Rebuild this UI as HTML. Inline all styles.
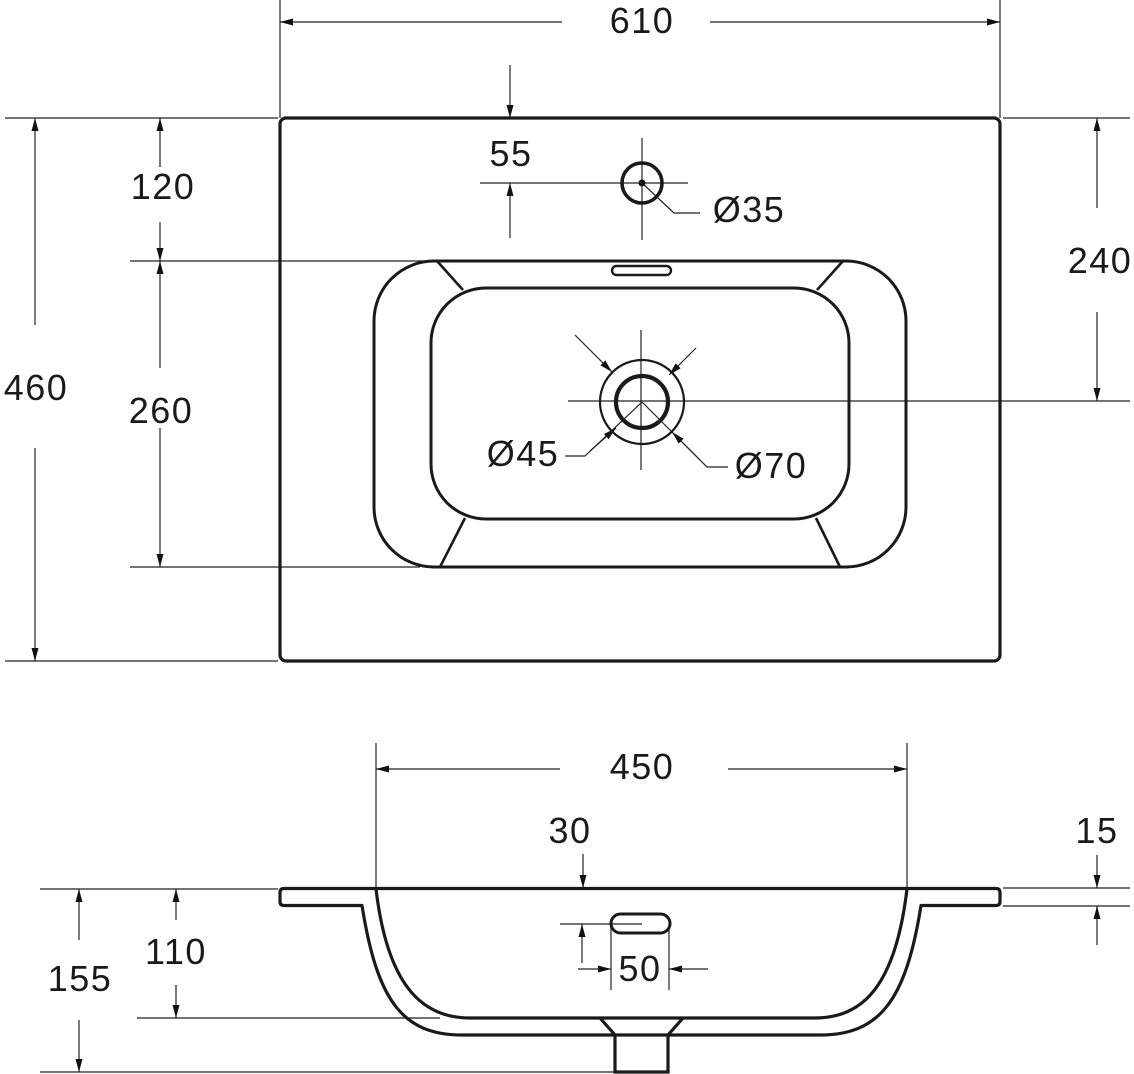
<!DOCTYPE html>
<html><head><meta charset="utf-8"><style>
html,body{margin:0;padding:0;background:#fff;}
svg{display:block;}
text{font-family:"Liberation Sans",sans-serif;font-size:36px;fill:#1a1a1a;text-anchor:middle;letter-spacing:1.5px;}
</style></head><body>
<svg width="1134" height="1074" viewBox="0 0 1134 1074" xmlns="http://www.w3.org/2000/svg">
<defs>
<marker id="a" markerUnits="userSpaceOnUse" markerWidth="14" markerHeight="8" refX="13" refY="3.5" orient="auto">
<path d="M0,0 L13,3.5 L0,7 z" fill="#111"/>
</marker>
</defs>
<g stroke="#222" stroke-width="1.2" fill="none">
<line x1="280" y1="0" x2="280" y2="118"/>
<line x1="1000" y1="0" x2="1000" y2="118"/>
<line x1="5" y1="118" x2="278" y2="118"/>
<line x1="5" y1="661" x2="278" y2="661"/>
<line x1="130" y1="261" x2="440" y2="261"/>
<line x1="130" y1="567" x2="420" y2="567"/>
<line x1="1003" y1="118" x2="1130" y2="118"/>
<line x1="568" y1="401" x2="1130" y2="401"/>
<line x1="641" y1="330" x2="641" y2="470"/>
<line x1="642" y1="138" x2="642" y2="240"/>
<line x1="480" y1="183" x2="688" y2="183"/>
<line x1="562" y1="22" x2="280" y2="22" marker-end="url(#a)"/>
<line x1="710" y1="22" x2="1000" y2="22" marker-end="url(#a)"/>
<line x1="510" y1="65" x2="510" y2="118" marker-end="url(#a)"/>
<line x1="510" y1="238" x2="510" y2="183" marker-end="url(#a)"/>
<line x1="35" y1="325" x2="35" y2="118" marker-end="url(#a)"/>
<line x1="35" y1="448" x2="35" y2="661" marker-end="url(#a)"/>
<line x1="160" y1="167" x2="160" y2="118" marker-end="url(#a)"/>
<line x1="160" y1="222" x2="160" y2="261" marker-end="url(#a)"/>
<line x1="160" y1="368" x2="160" y2="261" marker-end="url(#a)"/>
<line x1="160" y1="428" x2="160" y2="567" marker-end="url(#a)"/>
<line x1="1097" y1="208" x2="1097" y2="118" marker-end="url(#a)"/>
<line x1="1097" y1="312" x2="1097" y2="401" marker-end="url(#a)"/>
<polyline points="642,183 674,213 700,213"/>
<line x1="575" y1="335" x2="612" y2="372" marker-end="url(#a)"/>
<line x1="696" y1="348" x2="669" y2="375" marker-end="url(#a)"/>
<polyline points="642,402 707,467 728,467"/>
<line x1="700" y1="460" x2="672" y2="432" marker-end="url(#a)"/>
<polyline points="642,402 585,456 565,456"/>
<line x1="590" y1="451" x2="616" y2="428" marker-end="url(#a)"/>
<line x1="376" y1="743" x2="376" y2="888"/>
<line x1="907" y1="743" x2="907" y2="888"/>
<line x1="40" y1="889" x2="278" y2="889"/>
<line x1="40" y1="1072" x2="615" y2="1072"/>
<line x1="137" y1="1018" x2="440" y2="1018"/>
<line x1="1003" y1="888" x2="1130" y2="888"/>
<line x1="1003" y1="906" x2="1130" y2="906"/>
<line x1="560" y1="769" x2="376" y2="769" marker-end="url(#a)"/>
<line x1="728" y1="769" x2="907" y2="769" marker-end="url(#a)"/>
<line x1="583" y1="854" x2="583" y2="888" marker-end="url(#a)"/>
<line x1="1097" y1="855" x2="1097" y2="888" marker-end="url(#a)"/>
<line x1="1097" y1="945" x2="1097" y2="906" marker-end="url(#a)"/>
<line x1="79" y1="940" x2="79" y2="889" marker-end="url(#a)"/>
<line x1="79" y1="1020" x2="79" y2="1072" marker-end="url(#a)"/>
<line x1="176" y1="920" x2="176" y2="889" marker-end="url(#a)"/>
<line x1="176" y1="985" x2="176" y2="1018" marker-end="url(#a)"/>
<line x1="611" y1="924" x2="611" y2="990"/>
<line x1="669" y1="924" x2="669" y2="990"/>
<line x1="578" y1="969" x2="611" y2="969" marker-end="url(#a)"/>
<line x1="708" y1="969" x2="669" y2="969" marker-end="url(#a)"/>
<line x1="560" y1="924" x2="642" y2="924"/>
<line x1="582" y1="963" x2="582" y2="924" marker-end="url(#a)"/>
</g>
<g stroke="#1a1a1a" fill="none">
<rect x="280" y="118" width="720" height="543" rx="6" stroke-width="3.2"/>
<rect x="374" y="261" width="532" height="306" rx="60" stroke-width="3"/>
<rect x="431" y="288" width="418" height="231" rx="55" stroke-width="3"/>
<line x1="437" y1="261" x2="463" y2="290" stroke-width="2.6"/>
<line x1="843" y1="261" x2="817" y2="290" stroke-width="2.6"/>
<line x1="465" y1="518" x2="440" y2="567" stroke-width="2.6"/>
<line x1="816" y1="518" x2="840" y2="567" stroke-width="2.6"/>
<rect x="612" y="266" width="59" height="9" rx="4.5" stroke-width="2.4"/>
<circle cx="642" cy="183" r="20" stroke-width="3.6"/>
<circle cx="642" cy="402" r="42" stroke-width="2.2"/>
<circle cx="642" cy="402" r="26" stroke-width="4.2"/>
<path d="M284,888.5 H996 Q1000,888.5 1000,892.5 V901.5 Q1000,905.5 996,905.5 H921 C906,1000 880,1035 820,1035 H462 C402,1035 377,1000 362,905.5 H284 Q280,905.5 280,901.5 V892.5 Q280,888.5 284,888.5 Z" stroke-width="3.2" stroke-linejoin="round"/>
<path d="M376,889 C388,990 425,1018 470,1018 H815 C860,1018 895,990 907,889" stroke-width="3.2"/>
<path d="M600,1018 L615,1035 L615,1072 L668,1072 L668,1035 L683,1018" stroke-width="3.2"/>
<rect x="611" y="914" width="59" height="19" rx="9.5" stroke-width="3"/>
</g>
<circle cx="642" cy="183" r="3.5" fill="#111"/>
<text x="642" y="33">610</text>
<text x="511" y="166">55</text>
<text x="163" y="199">120</text>
<text x="36" y="400">460</text>
<text x="161" y="423">260</text>
<text x="1100" y="273">240</text>
<text x="749" y="222">Ø35</text>
<text x="523" y="466">Ø45</text>
<text x="771" y="478">Ø70</text>
<text x="642" y="779">450</text>
<text x="570" y="843">30</text>
<text x="1097" y="843">15</text>
<text x="80" y="991">155</text>
<text x="176" y="964">110</text>
<text x="640" y="981">50</text>
</svg>
</body></html>
